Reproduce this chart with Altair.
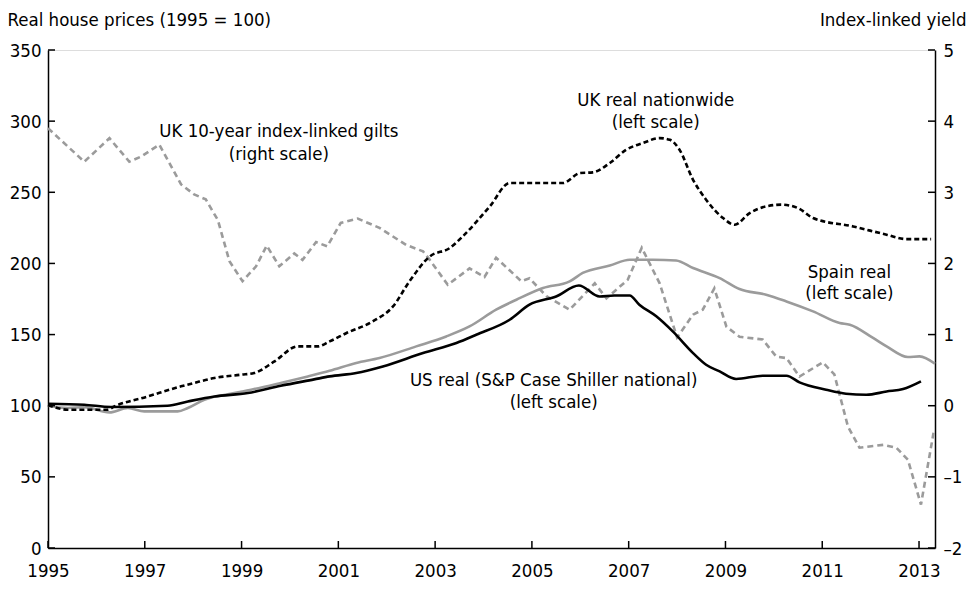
import altair as alt
import pandas as pd

# ---------------- data ----------------
uk_years = [1995.0, 1995.41, 1996.23, 1996.37, 1997.06, 1997.75, 1998.02, 1998.44, 1998.99,
            1999.26, 1999.68, 2000.16, 2000.57, 2000.82, 2001.17, 2001.71, 2002.13, 2002.47,
            2002.89, 2003.30, 2003.57, 2004.13, 2004.54, 2005.64, 2005.99, 2006.26, 2006.61,
            2006.95, 2007.29, 2007.64, 2007.85, 2008.05, 2008.33, 2008.60, 2008.95, 2009.19,
            2009.50, 2009.84, 2010.15, 2010.50, 2010.81, 2011.64, 2012.33, 2012.74, 2013.25]
uk_values = [100.5, 97.2, 97.2, 99.5, 106.5, 113.6, 116.0, 119.5, 121.8,
             123.0, 131.1, 141.7, 141.7, 145.2, 151.1, 159.2, 169.8, 187.4,
             204.9, 210.8, 219.0, 240.1, 256.5, 256.5, 263.5, 264.0, 270.6,
             279.9, 284.6, 288.1, 286.9, 279.9, 258.8, 244.8, 231.9, 227.2,
             235.4, 240.1, 241.3, 238.9, 231.9, 226.0, 220.2, 217.1, 217.1]

us_years = [1995.0, 1995.75, 1996.30, 1997.47, 1997.89, 1998.44, 1999.13, 1999.81, 2000.50,
            2000.82, 2001.37, 2001.92, 2002.75, 2003.44, 2003.85, 2004.54, 2004.95, 2005.50,
            2005.97, 2006.40, 2006.70, 2007.02, 2007.22, 2007.57, 2007.91, 2008.33, 2008.60,
            2008.88, 2009.22, 2009.77, 2010.26, 2010.53, 2011.08, 2011.49, 2011.91, 2012.33,
            2012.67, 2013.04]
us_values = [101.4, 100.7, 99.1, 100.0, 103.0, 106.5, 108.9, 114.0, 118.5,
             120.6, 123.0, 127.6, 137.0, 144.1, 149.9, 160.4, 171.0, 176.8,
             184.5, 176.8, 177.5, 177.5, 171.0, 162.8, 152.2, 137.0, 128.8,
             124.1, 118.8, 121.1, 121.1, 116.4, 111.2, 108.4, 107.7, 110.0,
             111.7, 117.1]

spain_years = [1995.0, 1995.41, 1995.75, 1996.27, 1996.65, 1996.99, 1997.68, 1997.89, 1998.23,
               1998.85, 1999.26, 1999.81, 2000.37, 2000.82, 2001.37, 2001.85, 2002.61, 2003.23,
               2003.71, 2004.26, 2004.68, 2005.23, 2005.78, 2006.05, 2006.61, 2007.02, 2007.50,
               2007.98, 2008.33, 2008.88, 2009.29, 2009.84, 2010.26, 2010.81, 2011.36, 2011.57,
               2012.05, 2012.33, 2012.77, 2013.01, 2013.33]
spain_values = [100.0, 98.4, 99.0, 95.3, 98.4, 96.0, 96.0, 98.4, 104.2,
                108.9, 111.7, 116.0, 120.6, 124.5, 130.0, 133.5, 141.7, 148.7,
                155.7, 167.5, 174.5, 182.7, 187.4, 193.3, 198.5, 202.6, 202.6,
                202.1, 196.8, 189.7, 182.0, 178.0, 173.3, 166.3, 158.1, 156.9,
                147.6, 141.7, 134.2, 134.7, 129.5]

gilt_years = [1995.00, 1995.75, 1996.27, 1996.68, 1996.92, 1997.30, 1997.75, 1998.02, 1998.26,
              1998.51, 1998.75, 1999.02, 1999.30, 1999.52, 1999.78, 2000.09, 2000.26, 2000.54,
              2000.77, 2001.05, 2001.40, 2001.85, 2002.40, 2002.75, 2002.89, 2003.26, 2003.71,
              2004.02, 2004.26, 2004.78, 2004.95, 2005.30, 2005.78, 2006.30, 2006.54, 2006.98,
              2007.27, 2007.64, 2008.00, 2008.33, 2008.53, 2008.77, 2009.02, 2009.29, 2009.77,
              2010.05, 2010.26, 2010.53, 2011.01, 2011.25, 2011.53, 2011.77, 2012.26, 2012.53,
              2012.77, 2013.04, 2013.30]
gilt_values = [3.90, 3.43, 3.76, 3.43, 3.50, 3.67, 3.11, 2.97, 2.90,
               2.61, 2.03, 1.75, 1.96, 2.25, 1.96, 2.14, 2.05, 2.30,
               2.24, 2.57, 2.63, 2.50, 2.26, 2.17, 2.05, 1.70, 1.93,
               1.81, 2.08, 1.75, 1.79, 1.54, 1.35, 1.72, 1.51, 1.77,
               2.22, 1.72, 0.96, 1.28, 1.35, 1.65, 1.11, 0.97, 0.93,
               0.69, 0.67, 0.41, 0.61, 0.44, -0.29, -0.59, -0.55, -0.59,
               -0.76, -1.39, -0.38]

x_tick_years = [1995, 1997, 1999, 2001, 2003, 2005, 2007, 2009, 2011, 2013]
left_ticks = [0, 50, 100, 150, 200, 250, 300, 350]
right_ticks = [-2, -1, 0, 1, 2, 3, 4, 5]

label_text = ["UK 10-year index-linked gilts", "(right scale)",
              "UK real nationwide", "(left scale)",
              "Spain real", "(left scale)",
              "US real (S&P Case Shiller national)", "(left scale)"]
label_x = [1999.77, 1999.77, 2007.56, 2007.56, 2011.56, 2011.56, 2005.45, 2005.45]
label_y = [292.8, 277.1, 315.0, 299.6, 194.2, 179.4, 118.3, 102.9]

# ---------------- chart ----------------
FONT = "DejaVu Sans Condensed"
FS = 18.5
W, H = 887, 498
GRAY = "#9b9b9b"

uk_df = pd.DataFrame({"year": uk_years, "v": uk_values})
us_df = pd.DataFrame({"year": us_years, "v": us_values})
sp_df = pd.DataFrame({"year": spain_years, "v": spain_values})
gi_df = pd.DataFrame({"year": gilt_years, "v": gilt_values})
xt_df = pd.DataFrame({"year": x_tick_years})
lt_df = pd.DataFrame({"v": left_ticks})
rt_df = pd.DataFrame({"v": right_ticks})
lab_df = pd.DataFrame({"t": label_text, "year": label_x, "v": label_y})

x_scale = alt.Scale(domain=[1995, 2013.33], nice=False, zero=False)
x_axis = alt.Axis(values=x_tick_years, format="d", title=None, ticks=False, grid=False,
                  domainColor="black", domainWidth=1.5, labelFont=FONT, labelFontSize=FS,
                  labelColor="black", labelPadding=13, labelFlush=False)
left_scale = alt.Scale(domain=[0, 350], nice=False)
left_axis = alt.Axis(values=left_ticks, title="Real house prices (1995 = 100)", ticks=False,
                     grid=False, domainColor="black", domainWidth=1.5, labelFont=FONT,
                     labelFontSize=FS, labelColor="black", labelPadding=7, labelFlush=False,
                     titleAngle=0, titleAlign="left", titleBaseline="alphabetic",
                     titleX=-41, titleY=-25, titleFont=FONT, titleFontSize=FS,
                     titleFontWeight="normal", titleColor="black")
right_scale = alt.Scale(domain=[-2, 5], nice=False, zero=False)
right_axis = alt.Axis(values=right_ticks, orient="right", title="Index-linked yield",
                      ticks=False, grid=False, domainColor="black", domainWidth=1.5,
                      labelFont=FONT, labelFontSize=FS, labelColor="black", labelPadding=8,
                      labelExpr="replace(datum.label, '\u2212', '\u2013')",
                      labelFlush=False, titleAngle=0, titleAlign="right",
                      titleBaseline="alphabetic", titleX=31, titleY=-25, titleFont=FONT,
                      titleFontSize=FS, titleFontWeight="normal", titleColor="black")

X = alt.X("year:Q", scale=x_scale, axis=x_axis)
YL = alt.Y("v:Q", scale=left_scale, axis=left_axis)
YR = alt.Y("v:Q", scale=right_scale, axis=right_axis)

spain = alt.Chart(sp_df).mark_line(color=GRAY, strokeWidth=2.6, interpolate="monotone").encode(x=X, y=YL, order="year:Q")
us = alt.Chart(us_df).mark_line(color="black", strokeWidth=2.6, interpolate="monotone").encode(x=X, y=YL, order="year:Q")
uk = alt.Chart(uk_df).mark_line(color="black", strokeWidth=2.6, strokeDash=[5, 3],
                                interpolate="monotone").encode(x=X, y=YL, order="year:Q")
xticks = alt.Chart(xt_df).mark_rule(color="black", strokeWidth=1.5).encode(
    x=X, y=alt.value(H), y2=alt.value(H - 7))
lticks = alt.Chart(lt_df).mark_rule(color="black", strokeWidth=1.5).encode(
    y=YL, x=alt.value(0), x2=alt.value(7))
labels = alt.Chart(lab_df).mark_text(font=FONT, fontSize=FS, color="black",
                                     align="center", baseline="middle").encode(
    x=X, y=YL, text="t:N")

gilts = alt.Chart(gi_df).mark_line(color=GRAY, strokeWidth=2.6, strokeDash=[6, 4]).encode(
    x=X, y=YR, order="year:Q")
rticks = alt.Chart(rt_df).mark_rule(color="black", strokeWidth=1.5).encode(
    y=YR, x=alt.value(W), x2=alt.value(W - 7))

left_layer = alt.layer(spain, us, uk, xticks, lticks, labels)
right_layer = alt.layer(gilts, rticks)

chart = alt.layer(right_layer, left_layer).resolve_scale(y="independent").properties(
    width=W, height=H,
    autosize=alt.AutoSizeParams(type="none"),
    padding={"left": 40, "top": 42, "right": 32, "bottom": 34},
).configure_view(strokeWidth=0).configure(background="white")

chart.save("out.html", embed_options={"renderer": "svg", "actions": False})
